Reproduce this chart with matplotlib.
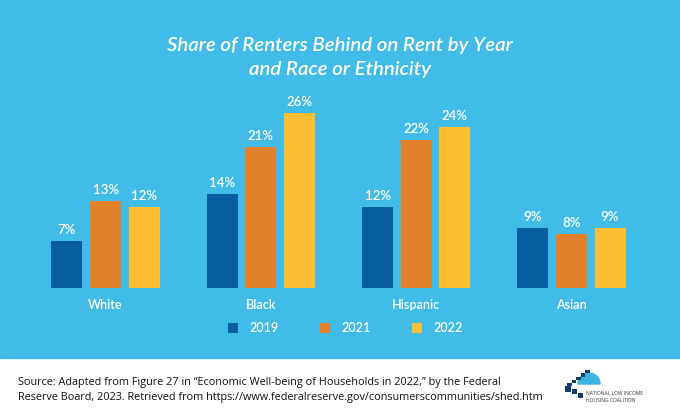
import matplotlib
matplotlib.use("Agg")
import matplotlib.pyplot as plt
import numpy as np
from matplotlib.patches import Rectangle, Wedge

# ---- data ----
categories = ["White", "Black", "Hispanic", "Asian"]
years = ["2019", "2021", "2022"]
v2019 = [7, 14, 12, 9]
v2021 = [13, 21, 22, 8]
v2022 = [12, 26, 24, 9]

title = "Share of Renters Behind on Rent by Year\nand Race or Ethnicity"
source = ("Source: Adapted from Figure 27 in \u201cEconomic Well-being of Households in 2022,\u201d by the Federal\n"
          "Reserve Board, 2023. Retrieved from https://www.federalreserve.gov/consumerscommunities/shed.htm")

# ---- style ----
BG = "#41BBE8"
C19, C21, C22 = "#075FA1", "#E2802B", "#FDBF31"
COLORS = [C19, C21, C22]
FONT = ["Lato", "DejaVu Sans"]
W, H = 680, 419

fig = plt.figure(figsize=(W / 100, H / 100), dpi=100)
fig.patch.set_facecolor("white")

# background decoration axes in pixel coords
bg = fig.add_axes([0, 0, 1, 1])
bg.set_xlim(0, W)
bg.set_ylim(H, 0)
bg.axis("off")
bg.add_patch(Rectangle((0, 0), W, 358, color=BG, zorder=0))

# title
bg.text(340, 57, title, ha="center", va="center", color="white", fontsize=14.7,
        fontstyle="italic", fontweight="semibold", family=FONT, linespacing=1.5)

# source
bg.text(18, 390, source, ha="left", va="center", color="#111111", fontsize=7.8,
        family=["Open Sans", "DejaVu Sans"], linespacing=1.6)

# logo
navy = "#123A6B"
bg.add_patch(Wedge((589, 384), 11, 180, 360, color="#3DB3E3", zorder=2))
for k in range(5):
    bg.add_patch(Rectangle((567 + k * 4.5, 383 - k * 3.2), 4.5, 3.2, color=navy, lw=0, zorder=3))
bg.add_patch(Rectangle((565, 386), 6, 5.5, color=navy, lw=0, zorder=3))
bg.add_patch(Rectangle((572, 389), 5, 4.5, color=navy, lw=0, zorder=3))
bg.add_patch(Rectangle((578, 393), 5, 4.5, color=navy, lw=0, zorder=3))
bg.text(586, 397, "NATIONAL LOW INCOME\nHOUSING COALITION", ha="left", va="center",
        color="#333333", fontsize=3.6, family=["Open Sans", "DejaVu Sans"], linespacing=1.4)

# legend (manual, pixel layout)
leg_x0, leg_step, leg_y = 228, 92, 328
for i, (yr, col) in enumerate(zip(years, COLORS)):
    lx = leg_x0 + i * leg_step
    bg.add_patch(Rectangle((lx, leg_y - 5), 10, 10, color=col, lw=0, zorder=3))
    bg.text(lx + 21, leg_y, yr, ha="left", va="center", color="white", fontsize=9,
            fontweight="semibold", family=FONT)

# ---- bar chart axes ----
gap = 155.3           # px between groups
c0 = 105.5            # px of first group centre
base_px = 288
top_px = 100
ppu = 6.72            # px per percentage point
ax = fig.add_axes([0, (H - base_px) / H, 1, (base_px - top_px) / H])
ax.set_facecolor("none")
ax.set_xlim(-c0 / gap, (W - c0) / gap)
ax.set_ylim(0, (base_px - top_px) / ppu)
ax.axis("off")

x = np.arange(len(categories))
bw = 31 / gap
off = 38.6 / gap
for vals, col, dx in [(v2019, C19, -off), (v2021, C21, 0), (v2022, C22, off)]:
    bars = ax.bar(x + dx, vals, width=bw, color=col, zorder=2)
    for b, v in zip(bars, vals):
        ax.annotate(f"{v}%", (b.get_x() + b.get_width() / 2, v), xytext=(0, 3.5),
                    textcoords="offset points", ha="center", va="bottom",
                    color="white", fontsize=9.5, fontweight="semibold", family=FONT)

for xi, cat in zip(x, categories):
    ax.annotate(cat, (xi, 0), xytext=(0, -12), textcoords="offset points",
                ha="center", va="center", color="white", fontsize=9,
                fontweight="semibold", family=FONT, annotation_clip=False)

fig.savefig("out.png", dpi=100, facecolor=fig.get_facecolor())
